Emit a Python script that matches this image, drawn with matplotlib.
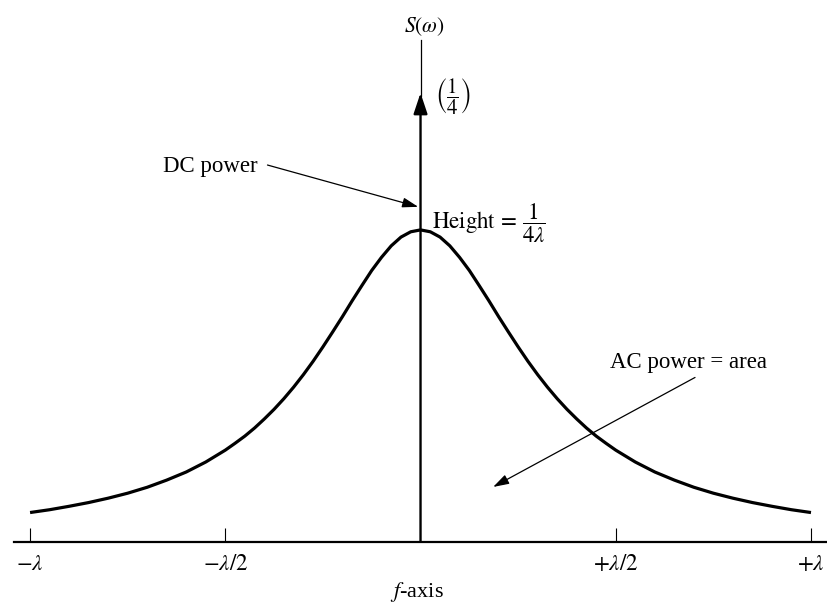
import matplotlib
matplotlib.use("Agg")
import matplotlib.pyplot as plt

plt.rcParams['font.family'] = ['Liberation Serif', 'DejaVu Serif']
plt.rcParams['mathtext.fontset'] = 'stix'

# frequency in units of lambda, spectral density normalised to the peak (1/(4 lambda))
f_lambda = [-1.000, -0.950, -0.900, -0.850, -0.800, -0.750, -0.700, -0.650, -0.600, -0.550,
            -0.500, -0.475, -0.450, -0.425, -0.400, -0.375, -0.350, -0.325, -0.300, -0.275,
            -0.250, -0.225, -0.200, -0.175, -0.150, -0.125, -0.100, -0.075, -0.050, -0.025,
            0.000,
            0.025, 0.050, 0.075, 0.100, 0.125, 0.150, 0.175, 0.200, 0.225, 0.250,
            0.275, 0.300, 0.325, 0.350, 0.375, 0.400, 0.425, 0.450, 0.475, 0.500,
            0.550, 0.600, 0.650, 0.700, 0.750, 0.800, 0.850, 0.900, 0.950, 1.000]
s_norm = [0.094, 0.103, 0.114, 0.126, 0.140, 0.156, 0.175, 0.198, 0.224, 0.256,
          0.294, 0.316, 0.339, 0.365, 0.394, 0.425, 0.459, 0.496, 0.536, 0.579,
          0.625, 0.673, 0.722, 0.773, 0.822, 0.870, 0.912, 0.949, 0.977, 0.994,
          1.000,
          0.994, 0.977, 0.949, 0.912, 0.870, 0.822, 0.773, 0.722, 0.673, 0.625,
          0.579, 0.536, 0.496, 0.459, 0.425, 0.394, 0.365, 0.339, 0.316, 0.294,
          0.256, 0.224, 0.198, 0.175, 0.156, 0.140, 0.126, 0.114, 0.103, 0.094]

tick_pos = [-1.0, -0.5, 0.5, 1.0]
tick_labels = [r'$-\lambda$', r'$-\lambda/2$', r'$+\lambda/2$', r'$+\lambda$']

fig = plt.figure(figsize=(8.27, 6.03), dpi=100)
ax = fig.add_axes([0, 0, 1, 1])
ax.set_xlim(-1.077, 1.041)
ax.set_ylim(-0.196, 1.737)

for s in ['top', 'right', 'left']:
    ax.spines[s].set_visible(False)
ax.spines['bottom'].set_position(('data', 0))
ax.spines['bottom'].set_linewidth(1.6)
ax.spines['bottom'].set_bounds(-1.04, 1.041)
ax.set_yticks([])
ax.set_xticks(tick_pos)
ax.set_xticklabels(tick_labels, fontsize=16.5)
ax.tick_params(axis='x', direction='in', length=10, width=0.8, pad=9)

# curve
ax.plot(f_lambda, s_norm, color='black', lw=2.3, solid_capstyle='butt',
        solid_joinstyle='round')

# vertical axis: thick part with arrow (impulse), thin continuation above
ax.annotate('', xy=(0, 1.439), xytext=(0, 0),
            arrowprops=dict(arrowstyle='-|>,head_length=0.9,head_width=0.3',
                            color='black', lw=1.7, shrinkA=0, shrinkB=0,
                            mutation_scale=14))
ax.plot([0, 0], [1.43, 1.609], color='black', lw=0.9)

ax.text(0.01, 1.652, r'$S(\omega)$', fontsize=15.5, ha='center', va='center')
ax.text(0.036, 1.428, r'$\left(\dfrac{1}{4}\right)$', fontsize=15, ha='left', va='center')

# DC power
ax.text(-0.659, 1.203, 'DC power', fontsize=16.5, ha='left', va='center')
ax.annotate('', xy=(-0.006, 1.074), xytext=(-0.392, 1.208),
            arrowprops=dict(arrowstyle='-|>,head_length=0.8,head_width=0.25',
                            color='black', lw=0.9, shrinkA=0, shrinkB=0,
                            mutation_scale=12))
ax.text(0.030, 1.02, r'$\mathrm{Height}\,=\,\dfrac{1}{4\lambda}$', fontsize=16.5,
        ha='left', va='center')

# AC power
ax.text(0.485, 0.574, 'AC power = area', fontsize=16.5, ha='left', va='center')
ax.annotate('', xy=(0.186, 0.176), xytext=(0.703, 0.527),
            arrowprops=dict(arrowstyle='-|>,head_length=0.8,head_width=0.25',
                            color='black', lw=0.9, shrinkA=0, shrinkB=0,
                            mutation_scale=12))

ax.text(-0.009, -0.162, r'$f$-axis', fontsize=16, ha='center', va='center')

fig.savefig('out.png', dpi=100)
